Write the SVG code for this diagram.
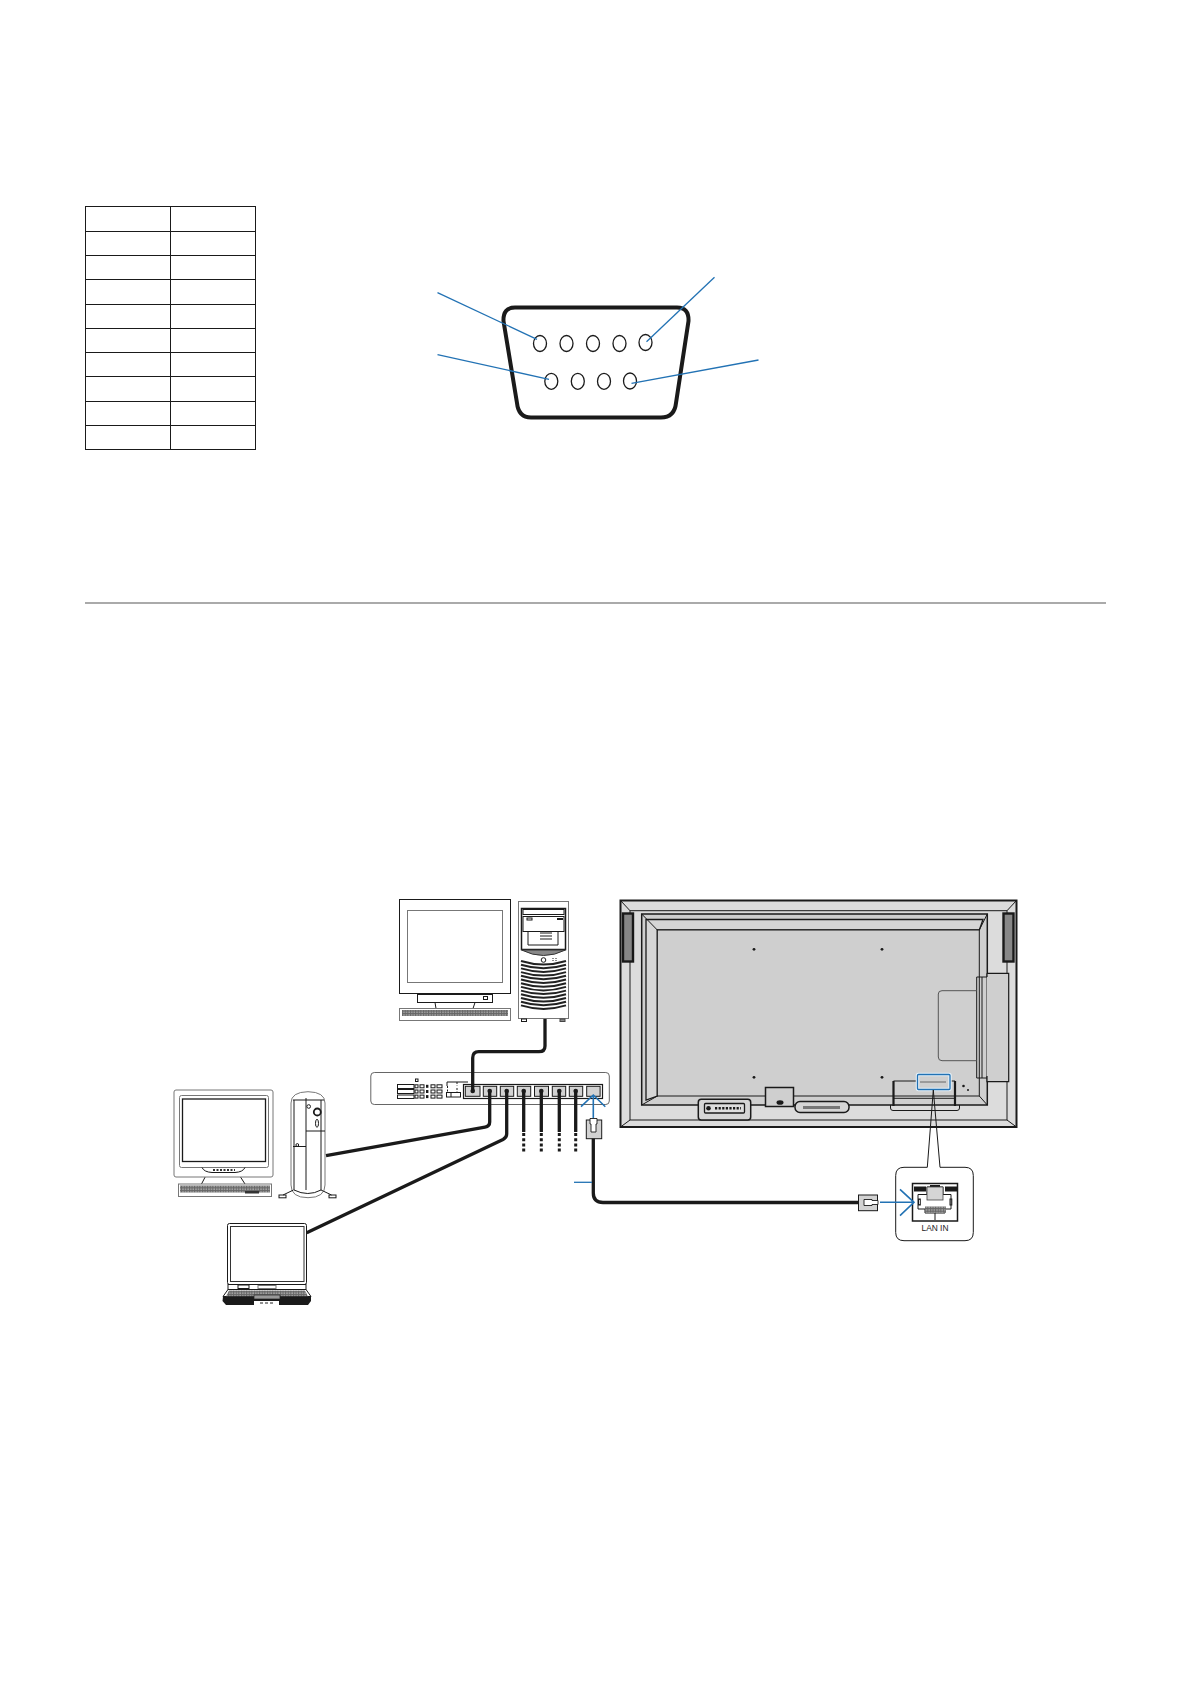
<svg xmlns="http://www.w3.org/2000/svg" width="1191" height="1684" viewBox="0 0 1191 1684">
<style>
.k{fill:none;stroke:#1a1a1a;stroke-width:1}
.k2{fill:none;stroke:#1a1a1a;stroke-width:1.3}
.w{fill:#fff;stroke:#1a1a1a;stroke-width:1}
.g{fill:#d2d2d2;stroke:#1a1a1a;stroke-width:1}
.gl{fill:#fff;stroke:#777;stroke-width:1}
.cable{fill:none;stroke:#1a1a1a;stroke-width:3.3;stroke-linejoin:round}
.dash{fill:none;stroke:#1a1a1a;stroke-width:3;stroke-dasharray:3 2.2}
.blue{fill:none;stroke:#2272b4;stroke-width:1.3}
.arrow{fill:none;stroke:#2272b4;stroke-width:1.6}
.d{fill:#1a1a1a}
.lan{font-family:"Liberation Sans",Arial,sans-serif;font-size:8.4px;fill:#222;text-anchor:middle}
</style>
<defs>
<pattern id="keys" width="2.6" height="2.6" patternUnits="userSpaceOnUse"><rect width="2.6" height="2.6" fill="#666"/><rect x="0.3" y="0.3" width="1.3" height="1.3" fill="#bbb"/></pattern>
<path id="vent" d="M521 0Q543.500 7 566 0" fill="none" stroke="#222" stroke-width="2"/>
<g id="dotrow"><rect x="0" y="-1.500" width="3" height="3" class="k"/><rect x="5" y="-1.500" width="4" height="3" class="k"/><rect x="11" y="-1.500" width="2.400" height="3" class="d"/><rect x="16" y="-1.500" width="4" height="3" class="k"/><rect x="22" y="-1.500" width="5" height="3" class="k"/></g>
</defs>
<rect width="1191" height="1684" fill="#fff"/>

<g id="pin-table" fill="none" stroke="#1a1a1a" stroke-width="1">
<rect x="85.500" y="206.500" width="170" height="243"/>
<path d="M170.500 206.500V449.500M85.500 231.500H255.500M85.500 255.500H255.500M85.500 279.500H255.500M85.500 304.500H255.500M85.500 328.500H255.500M85.500 352.500H255.500M85.500 376.500H255.500M85.500 401.500H255.500M85.500 425.500H255.500"/>
</g>

<g id="d-sub-connector">
<path d="M515 307.500H677Q689 307.500 688.500 321L676 403Q674.500 417.500 661 417.500H531Q518.500 417.500 517 403L503.500 321Q503 307.500 515 307.500Z" fill="#fff" stroke="#1a1a1a" stroke-width="4"/>
<g class="k2">
<ellipse cx="540" cy="343.500" rx="6.500" ry="8"/><ellipse cx="566.500" cy="343.500" rx="6.500" ry="8"/><ellipse cx="593" cy="343.500" rx="6.500" ry="8"/><ellipse cx="619.500" cy="343.500" rx="6.500" ry="8"/><ellipse cx="645.500" cy="342.500" rx="6.500" ry="8"/>
<ellipse cx="551.300" cy="381.300" rx="6.500" ry="8"/><ellipse cx="577.800" cy="381.300" rx="6.500" ry="8"/><ellipse cx="604" cy="381.300" rx="6.500" ry="8"/><ellipse cx="630" cy="381" rx="6.500" ry="8"/>
</g>
</g>

<g id="pin-leaders" class="blue">
<path d="M437.500 292.700L537 339.300"/><path d="M437.500 354.700L549 379.300"/><path d="M714.500 277.300L646.500 341.700"/><path d="M758.500 360L631.500 383.300"/>
</g>

<path id="section-rule" d="M85 603H1106" stroke="#aaa" stroke-width="2" fill="none"/>

<g id="pc-top">
<rect x="399.500" y="899.500" width="111" height="94" class="w"/>
<rect x="407.500" y="910.500" width="95" height="72" class="gl"/>
<path d="M435 1002.500L436 1008.500H473L475 1002.500" class="k"/>
<rect x="417.500" y="994.500" width="75" height="8" class="w"/>
<rect x="483.500" y="996.500" width="4" height="3" class="w"/>
<rect x="399.500" y="1008.500" width="111" height="12" class="gl"/>
<rect x="402" y="1010" width="106" height="6" fill="url(#keys)"/>
<rect x="518.500" y="901.500" width="50" height="117" class="gl"/>
<rect x="521.500" y="908.500" width="44" height="41" fill="#fff" stroke="#1a1a1a" stroke-width="1.500"/>
<rect x="523" y="909.500" width="41" height="5" class="k"/><rect x="523" y="916.500" width="41" height="15" class="k"/>
<path d="M528 932V945H558V932M540 933H552M540 936H552M540 939H552" class="k"/>
<rect x="527" y="918" width="5" height="2" class="k"/><rect x="557" y="918" width="6" height="2" class="d"/>
<path d="M521.500 950Q543.500 961 565.500 950Z" fill="#888" stroke="#333" stroke-width="1"/>
<circle cx="543.500" cy="960" r="2.300" class="k"/>
<path d="M553 958v4M556 958v4" stroke="#1a1a1a" stroke-width="1" stroke-dasharray="1 1"/>
<use href="#vent" y="961"/><use href="#vent" y="964.700"/><use href="#vent" y="968.400"/><use href="#vent" y="972.100"/><use href="#vent" y="975.800"/><use href="#vent" y="979.500"/><use href="#vent" y="983.200"/><use href="#vent" y="986.900"/><use href="#vent" y="990.600"/><use href="#vent" y="994.300"/><use href="#vent" y="998"/><use href="#vent" y="1001.700"/><use href="#vent" y="1005.400"/>
<rect x="521.500" y="1019" width="5" height="2.500" class="k"/><rect x="560" y="1019" width="5" height="2.500" fill="#888" stroke="#444"/>
</g>

<g id="pc-left">
<rect x="174" y="1090" width="99" height="87" rx="2" class="gl"/>
<rect x="179.500" y="1095.500" width="89" height="72" rx="2" class="gl"/>
<rect x="182.500" y="1099" width="83" height="62.500" fill="#fff" stroke="#1a1a1a" stroke-width="1.300"/>
<path d="M202 1167.500Q204 1172 212 1172.500H235Q243 1172 245 1167.500" class="k"/>
<path d="M213 1170h22" stroke="#333" stroke-width="2" stroke-dasharray="2 1.500"/>
<path d="M205 1177.300L201.500 1184M240.700 1177.300L245 1184" class="k"/>
<rect x="178.500" y="1184" width="93" height="12.500" class="gl"/>
<rect x="180" y="1185.500" width="90" height="7" fill="url(#keys)"/>
<rect x="245" y="1191" width="14" height="2.500" fill="#333"/>
<path d="M291 1103Q291 1092 308 1091.700Q325 1092 325 1103V1185Q325 1197.700 308 1197.700Q291 1197.700 291 1185Z" class="gl"/>
<path d="M293 1100H324M294 1100V1190M321 1100V1190M306 1098V1190M306 1131H325M293 1146.500H306M294 1190Q308 1197 321 1190" class="k"/>
<circle cx="317.300" cy="1112" r="3.500" fill="#fff" stroke="#1a1a1a" stroke-width="1.800"/>
<circle cx="308.700" cy="1106.500" r="1.800" class="k"/>
<ellipse cx="317" cy="1123.300" rx="1.500" ry="4" class="k"/>
<circle cx="297.300" cy="1145" r="1.400" class="k"/>
<path d="M293.500 1190L283 1195M321 1190L331.500 1195" class="k"/>
<rect x="279" y="1195" width="7" height="2.800" class="k"/><rect x="329" y="1195" width="7" height="2.800" class="k"/>
</g>

<g id="laptop">
<rect x="227.500" y="1223.500" width="79" height="61" rx="2" class="w"/>
<rect x="230.500" y="1226.500" width="73.500" height="55" fill="#fff" stroke="#333" stroke-width="1"/>
<rect x="228" y="1284.500" width="78" height="5" class="w"/>
<rect x="238" y="1285" width="11" height="3.500" class="w"/>
<rect x="258" y="1285.500" width="18" height="3" class="gl"/>
<path d="M228 1289.500H306L311 1296.500H223Z" class="w"/>
<path d="M229 1290.500H305L308 1296.500H226Z" fill="url(#keys)"/>
<path d="M223 1296.500L222.500 1301L226 1305H308L311 1301L311 1296.500Z" class="d"/>
<rect x="254" y="1295" width="26" height="4" fill="#999" stroke="#222" stroke-width="0.700"/>
<rect x="254" y="1301" width="25" height="4" fill="#fff"/>
<path d="M260 1303h13" stroke="#222" stroke-width="1" stroke-dasharray="3 2"/>
</g>

<g id="network-switch">
<rect x="370.800" y="1072.500" width="238.500" height="32" rx="3.500" fill="#fff" stroke="#666" stroke-width="1"/>
<rect x="397.500" y="1084.500" width="16.500" height="4" class="k"/><rect x="397.500" y="1089.500" width="16.500" height="4" class="k"/><rect x="397.500" y="1095" width="16.500" height="3.500" class="k"/>
<rect x="415.500" y="1079" width="2.500" height="2.500" class="k"/>
<use href="#dotrow" x="415" y="1086.300"/><use href="#dotrow" x="415" y="1091.500"/><use href="#dotrow" x="415" y="1096.600"/>
<path d="M447 1086V1082H468" class="k"/>
<path d="M447.500 1086V1092M457 1082V1086M457 1088V1092" stroke="#1a1a1a" stroke-width="1" stroke-dasharray="2 1.500"/>
<rect x="446.500" y="1092.500" width="14" height="4.500" class="k"/><path d="M451 1092.500V1097" class="k"/>
<rect x="463.500" y="1084.500" width="139" height="14" fill="#fff" stroke="#1a1a1a" stroke-width="1.200"/>
<g class="g">
<rect x="465.300" y="1086.300" width="14.700" height="10"/><rect x="483.300" y="1086.300" width="13.400" height="10"/><rect x="500.300" y="1086.300" width="13.400" height="10"/><rect x="517.300" y="1086.300" width="13.400" height="10"/><rect x="534.500" y="1086.300" width="14" height="10"/><rect x="552.300" y="1086.300" width="13.400" height="10"/><rect x="569.300" y="1086.300" width="13.400" height="10"/><rect x="586.700" y="1086.300" width="13.400" height="10"/>
</g>
</g>

<g id="wall-display">
<rect x="620.500" y="900.500" width="396" height="226.500" fill="#dcdcdc" stroke="#1a1a1a" stroke-width="2"/>
<rect x="630" y="910.700" width="377" height="209.300" fill="#dcdcdc" stroke="#1a1a1a" stroke-width="1"/>
<path d="M620.500 900.500L630 910.700M1016.500 900.500L1007 910.700M620.500 1127L630 1120M1016.500 1127L1007 1120" class="k"/>
<rect x="641.700" y="914" width="345.600" height="191" fill="#cfcfcf" stroke="#1a1a1a" stroke-width="1.500"/>
<path d="M646 919.500H983L979.300 930H657.300V1096L646 1100Z" fill="#d6d6d6" stroke="#1a1a1a" stroke-width="1.300"/>
<rect x="657.300" y="930" width="322" height="166" fill="#cfcfcf" stroke="#1a1a1a" stroke-width="1"/>
<path d="M641.700 914L657.300 930M987.300 914L979.300 930M979.300 1096L987.300 1105M657.300 1096L641.700 1105" class="k"/>
<rect x="623" y="913.500" width="10" height="48" fill="#888" stroke="#1a1a1a" stroke-width="2.400"/>
<rect x="1003.500" y="913.500" width="10" height="48" fill="#888" stroke="#1a1a1a" stroke-width="2.400"/>
<circle cx="754" cy="949.300" r="1.400" class="d"/><circle cx="882" cy="949.300" r="1.400" class="d"/><circle cx="754" cy="1077.300" r="1.400" class="d"/><circle cx="882" cy="1077.300" r="1.400" class="d"/>
<path d="M987 973.300H1008.700V1081.700H987V1076M987 973.300V977" fill="#cfcfcf" stroke="#1a1a1a" stroke-width="1.200"/>
<path d="M987 977H976.700V1078H987M982 977V1078" class="k"/>
<path d="M976.700 990.700H942Q938.300 990.700 938.300 994V1057Q938.300 1060.700 942 1060.700H976.700" class="k" style="stroke:#555"/>
<rect x="698.300" y="1099.300" width="52.400" height="20.700" rx="3" fill="#d5d5d5" stroke="#1a1a1a" stroke-width="1.500"/>
<rect x="704.500" y="1103.500" width="40" height="9.500" rx="1" fill="#ddd" stroke="#1a1a1a" stroke-width="1.300"/>
<circle cx="708.500" cy="1108.300" r="2.300" class="d"/>
<path d="M715 1108.300H741" stroke="#1a1a1a" stroke-width="2.400" stroke-dasharray="2.200 1.400"/>
<path d="M765.500 1087.500V1106.500H793.500V1087.500Z" fill="#cfcfcf" stroke="#1a1a1a" stroke-width="1.500"/>
<ellipse cx="780" cy="1102.500" rx="3.500" ry="2.300" class="d"/>
<rect x="795" y="1101.500" width="54" height="11" rx="5" fill="#d5d5d5" stroke="#1a1a1a" stroke-width="1.500"/>
<path d="M803 1107.500H840" stroke="#777" stroke-width="3"/>
<path d="M893.500 1081V1106M955 1081V1106" stroke="#1a1a1a" stroke-width="2.200" fill="none"/>
<path d="M893.500 1081H917M950 1081H955M893.500 1098.300H955" class="k"/>
<path d="M890.500 1105V1108Q890.500 1110.500 893 1110.500H957Q959.500 1110.500 959.500 1108V1105" class="k"/>
<circle cx="963.500" cy="1086" r="1.300" class="d"/><circle cx="968" cy="1090" r="1" class="d"/>
<rect x="917.500" y="1074.500" width="32.500" height="15" rx="1" fill="none" stroke="#e4f0f8" stroke-width="3.500"/>
<rect x="917.500" y="1074.500" width="32.500" height="15" rx="1" fill="none" stroke="#2272b4" stroke-width="1.300"/>
<path d="M920 1082H946" stroke="#666" stroke-width="1"/>
</g>

<g id="lan-callout">
<path d="M933.300 1090L927.300 1167.300M933.300 1090L940 1167.300" class="k"/>
<path d="M927.300 1167.300H904Q895.700 1167.300 895.700 1175.500V1232.500Q895.700 1240.700 904 1240.700H965Q973.300 1240.700 973.300 1232.500V1175.500Q973.300 1167.300 965 1167.300H940" class="k"/>
<rect x="912.500" y="1183.500" width="45" height="37.500" fill="#fff" stroke="#1a1a1a" stroke-width="1.500"/>
<rect x="914" y="1186.500" width="12" height="5" class="d"/><rect x="945" y="1186.500" width="12" height="5" class="d"/>
<rect x="930" y="1185" width="10" height="2.500" class="d"/>
<path d="M918 1194.500H927V1187H943V1194.500H951V1209H945V1213H925V1209H918Z" fill="#fff" stroke="#1a1a1a" stroke-width="1"/>
<rect x="927" y="1187" width="16" height="13" fill="#d5d5d5" stroke="#444" stroke-width="0.800"/>
<rect x="918.500" y="1199" width="1.800" height="6" class="k"/><rect x="950" y="1199" width="1.800" height="6" class="k"/>
<rect x="925" y="1206.500" width="21" height="6" fill="url(#keys)"/>
<path d="M935 1213V1220" class="k"/>
<text class="lan" x="935" y="1230.500">LAN IN</text>
</g>

<g id="connectors">
<path class="cable" d="M545 1019V1046Q545 1051.700 539 1051.700H478.700Q472.700 1051.700 472.700 1058V1091"/>
<path class="cable" d="M489.700 1091V1122Q489.700 1126.300 485 1127.200L326 1155.700"/>
<path class="cable" d="M506.700 1091V1134Q506.700 1137.500 503 1139.500L306.700 1232.700"/>
<path class="cable" d="M523.700 1091V1132M541.300 1091V1132M559.300 1091V1132M575.700 1091V1132"/>
<path class="dash" d="M523.700 1133V1153M541.300 1133V1153M559.300 1133V1153M575.700 1133V1153"/>
<circle class="d" cx="472.700" cy="1091" r="2.300"/><circle class="d" cx="489.700" cy="1091" r="2.300"/><circle class="d" cx="506.700" cy="1091" r="2.300"/><circle class="d" cx="523.700" cy="1091" r="2.300"/><circle class="d" cx="541.300" cy="1091" r="2.300"/><circle class="d" cx="559.300" cy="1091" r="2.300"/><circle class="d" cx="575.700" cy="1091" r="2.300"/>
<path class="cable" d="M593.300 1138V1193Q593.300 1202.500 603 1202.500H858"/>
<path class="blue" d="M574 1182.300H592"/>
<path class="arrow" d="M593.300 1118V1096M581 1106.700L593.300 1095L605.300 1106.700"/>
<path class="arrow" d="M880 1202.300H913M900 1189.300L914 1202.300L900 1215.700"/>
</g>

<g id="rj45-plug-up">
<rect x="586.300" y="1120" width="15.400" height="18.700" class="g"/>
<path d="M590 1118.500H597V1124H596V1132H591V1124H590Z" fill="#fff" stroke="#1a1a1a" stroke-width="0.900"/>
</g>
<g id="rj45-plug-right">
<rect x="858.500" y="1195" width="19" height="15.700" class="g"/>
<path d="M864 1199.500H872V1200.500H878V1204.500H872V1205.500H864Z" fill="#fff" stroke="#1a1a1a" stroke-width="0.900"/>
</g>
</svg>
